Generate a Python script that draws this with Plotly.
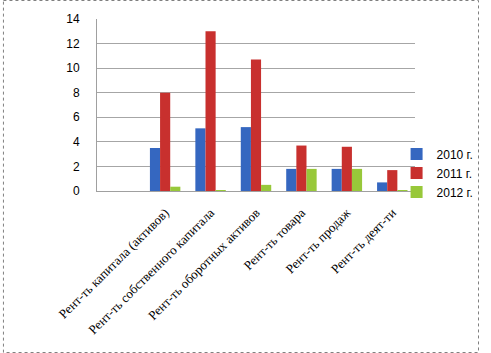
import plotly.graph_objects as go

categories = [" ", "Рент-ть капитала (активов)", "Рент-ть собственного капитала",
              "Рент-ть оборотных активов", "Рент-ть товара", "Рент-ть продаж", "Рент-ть деят-ти"]
series_names = ["2010 г.", "2011 г.", "2012 г."]
v2010 = [None, 3.5, 5.1, 5.2, 1.8, 1.8, 0.7]
v2011 = [None, 8.0, 13.0, 10.7, 3.7, 3.6, 1.7]
v2012 = [None, 0.35, 0.05, 0.5, 1.8, 1.8, 0.05]
colors = ["#3567c0", "#c8302e", "#98c83a"]
y_ticks = [0, 2, 4, 6, 8, 10, 12, 14]

W, H = 491, 353
L, R, T, B = 97, 66, 19, 162

fig = go.Figure()
for i, (name, vals, c) in enumerate(zip(series_names, [v2010, v2011, v2012], colors)):
    fig.add_trace(go.Bar(x=categories, y=vals, name=name, marker_color=c,
                         marker_line_width=0, legendgroup=f"g{i}"))

pw = W - L - R
ph = H - T - B
def px_x(x): return (x - L) / pw
def px_y(y): return 1 - (y - T) / ph

fig.add_shape(type="rect", xref="paper", yref="paper",
              x0=px_x(0.5), x1=px_x(W - 0.5), y0=px_y(0.5), y1=px_y(H - 0.5),
              line=dict(color="#808080", width=1, dash="dot"))

fig.update_layout(
    width=W, height=H,
    margin=dict(l=L, r=R, t=T, b=B),
    paper_bgcolor="white", plot_bgcolor="white",
    barmode="group", bargap=0.33, bargroupgap=0.0,
    showlegend=True,
    legend=dict(x=px_x(406), y=px_y(173), xanchor="left", yanchor="middle",
                font=dict(family="Liberation Sans", size=12, color="black"),
                bgcolor="rgba(0,0,0,0)",
                itemwidth=30, tracegroupgap=5, traceorder="normal"),
    font=dict(family="Liberation Sans", size=12, color="black"),
)
fig.update_xaxes(tickangle=-45, tickfont=dict(family="Liberation Serif", size=13),
                 showline=True, linecolor="#a0a0a0", showgrid=False, ticks="",
                 ticklabelstandoff=8)
fig.update_yaxes(range=[0, 14], tickvals=y_ticks, showgrid=True, gridcolor="#a6a6a6",
                 showline=True, linecolor="#a0a0a0", zeroline=False,
                 ticklabelstandoff=14, tickfont=dict(size=12))

fig.write_html("out.html")
